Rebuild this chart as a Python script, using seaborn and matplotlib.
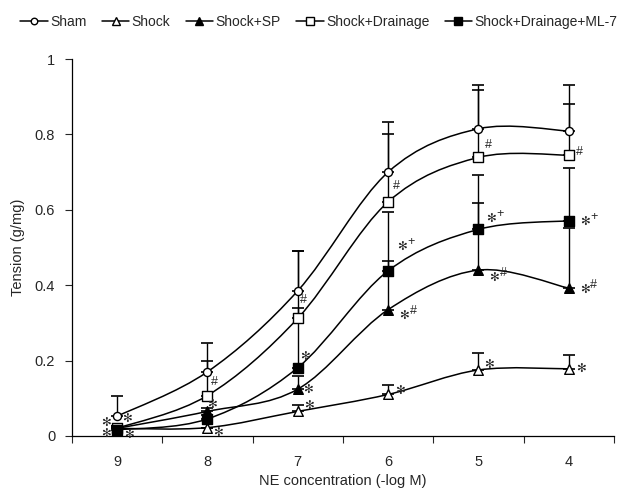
import numpy as np
import seaborn as sns
import matplotlib.pyplot as plt
from matplotlib.path import Path
from matplotlib.patches import PathPatch
from matplotlib.lines import Line2D

conc_labels = ["9", "8", "7", "6", "5", "4"]

sham = [0.052, 0.170, 0.385, 0.700, 0.815, 0.809]
sham_err = [0.054, 0.077, 0.105, 0.133, 0.116, 0.122]
shock = [0.020, 0.022, 0.065, 0.110, 0.175, 0.178]
shock_err = [0.0, 0.0, 0.017, 0.025, 0.045, 0.037]
shock_sp = [0.020, 0.065, 0.124, 0.335, 0.440, 0.392]
shock_sp_err = [0.005, 0.010, 0.036, 0.130, 0.179, 0.159]
drainage = [0.020, 0.107, 0.312, 0.621, 0.739, 0.745]
drainage_err = [0.005, 0.093, 0.028, 0.180, 0.179, 0.137]
drainage_ml7 = [0.016, 0.045, 0.181, 0.438, 0.548, 0.571]
drainage_ml7_err = [0.005, 0.010, 0.309, 0.157, 0.144, 0.141]

series = [
    ("Sham", sham, sham_err, "o", "white", 34),
    ("Shock", shock, shock_err, "^", "white", 48),
    ("Shock+SP", shock_sp, shock_sp_err, "^", "black", 48),
    ("Shock+Drainage", drainage, drainage_err, "s", "white", 42),
    ("Shock+Drainage+ML-7", drainage_ml7, drainage_ml7_err, "s", "black", 42),
]

# significance marks: (series, concentration index, star, superscript, dx px, dy px)
marks = [
    ("Shock+SP", 0, True, "", -11, 5),
    ("Shock+Drainage+ML-7", 0, True, "", -11, -4),
    ("Shock+Drainage", 0, True, "", 10, 9),
    ("Shock", 0, True, "", 12, -7),
    ("Shock+Drainage", 1, False, "#", 7, 14),
    ("Shock+SP", 1, True, "", 5, 6),
    ("Shock", 1, True, "", 11, -5),
    ("Shock+Drainage", 2, False, "#", 6, 18),
    ("Shock+Drainage+ML-7", 2, True, "", 7, 11),
    ("Shock+SP", 2, True, "", 10, -1),
    ("Shock", 2, True, "", 11, 5),
    ("Shock+Drainage", 3, False, "#", 8, 16),
    ("Shock+Drainage+ML-7", 3, True, "+", 14, 24),
    ("Shock+SP", 3, True, "#", 16, -6),
    ("Shock", 3, True, "", 12, 4),
    ("Shock+Drainage", 4, False, "#", 10, 12),
    ("Shock+Drainage+ML-7", 4, True, "+", 13, 10),
    ("Shock+SP", 4, True, "#", 16, -8),
    ("Shock", 4, True, "", 11, 5),
    ("Shock+Drainage", 5, False, "#", 11, 3),
    ("Shock+Drainage+ML-7", 5, True, "+", 16, -1),
    ("Shock+SP", 5, True, "#", 16, -2),
    ("Shock", 5, True, "", 12, 0),
]

sns.set_style("white")
plt.rcParams["font.family"] = ["Liberation Sans", "DejaVu Sans"]


def smooth_path(xs, ys):
    # bezier curve through the points, like a spreadsheet "smoothed line"
    p = np.column_stack([xs, ys])
    n = len(p)
    verts = [p[0]]
    codes = [Path.MOVETO]
    for i in range(n - 1):
        prev = p[max(i - 1, 0)]
        nxt = p[min(i + 2, n - 1)]
        verts += [p[i] + (p[i + 1] - prev) / 6, p[i + 1] - (nxt - p[i]) / 6, p[i + 1]]
        codes += [Path.CURVE4] * 3
    return Path(verts, codes)


fig, ax = plt.subplots(figsize=(6.19, 4.92), dpi=100)
fig.subplots_adjust(left=0.116, right=0.992, bottom=0.114, top=0.880)

xpos = np.arange(len(conc_labels))
lookup = {}
handles = []
for name, vals, err, m, face, size in series:
    lookup[name] = vals
    ax.add_patch(PathPatch(smooth_path(xpos, vals), facecolor="none",
                           edgecolor="black", lw=1.1, zorder=2))
    ax.errorbar(xpos, vals, yerr=[np.zeros(len(err)), err], fmt="none",
                ecolor="black", elinewidth=1, capsize=4, capthick=1.2, zorder=3)
    sns.scatterplot(x=xpos, y=vals, marker=m, s=size, color=face,
                    edgecolor="black", linewidth=1, ax=ax, zorder=4, legend=False)
    handles.append(Line2D([], [], color="black", lw=1.1, marker=m,
                          markerfacecolor=face, markeredgecolor="black",
                          markersize=np.sqrt(size) * 0.8, label=name))

for name, i, star, sup, dx, dy in marks:
    y = lookup[name][i]
    if star:
        ax.annotate("\u273b", (i, y), xytext=(dx, dy), textcoords="offset pixels",
                    ha="center", va="center", fontsize=8.5, zorder=5)
        if sup:
            ax.annotate(sup, (i, y), xytext=(dx + 9, dy + 5), textcoords="offset pixels",
                        ha="center", va="center", fontsize=9, zorder=5)
    else:
        ax.annotate(sup, (i, y), xytext=(dx, dy), textcoords="offset pixels",
                    ha="center", va="center", fontsize=9, zorder=5)

ax.set_xlim(-0.5, len(conc_labels) - 0.5)
ax.set_ylim(0, 1)
ax.set_xticks(xpos)
ax.set_xticklabels(conc_labels)
ax.set_xticks(np.arange(-0.5, len(conc_labels), 1.0), minor=True)
ax.tick_params(axis="x", which="major", length=0, pad=14, labelsize=10.5)
ax.tick_params(axis="x", which="minor", length=5, direction="out", width=0.8)
ax.set_yticks([0, 0.2, 0.4, 0.6, 0.8, 1.0])
ax.set_yticklabels(["0", "0.2", "0.4", "0.6", "0.8", "1"])
ax.tick_params(axis="y", length=5, direction="out", width=0.8, pad=7, labelsize=10.5)
ax.tick_params(bottom=False, left=True)
ax.tick_params(axis="x", which="minor", bottom=True)
sns.despine(ax=ax)
for s in ["left", "bottom"]:
    ax.spines[s].set_color("black")
    ax.spines[s].set_linewidth(0.9)

ax.set_xlabel("NE concentration (-log M)", fontsize=10.5, labelpad=3)
ax.set_ylabel("Tension (g/mg)", fontsize=10.5, labelpad=7)

fig.legend(handles=handles, loc="upper center", bbox_to_anchor=(0.515, 0.995), ncol=5,
           frameon=False, fontsize=10, handlelength=2.0, handletextpad=0.15,
           columnspacing=1.1)

fig.savefig("out.png", dpi=100)
